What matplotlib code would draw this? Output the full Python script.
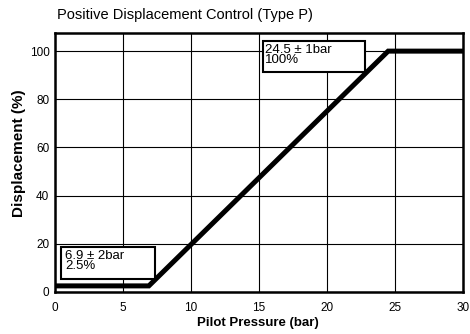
import matplotlib.pyplot as plt
from matplotlib.patches import Rectangle

plt.rcParams['font.family'] = ['Liberation Sans', 'DejaVu Sans']

# control curve: pressure (bar) vs displacement (%)
pressure = [0, 6.9, 24.5, 30]
displacement = [2.5, 2.5, 100, 100]
x_ticks = [0, 5, 10, 15, 20, 25, 30]
y_ticks = [0, 20, 40, 60, 80, 100]
start_label = '6.9 ± 2bar\n2.5%'
end_label = '24.5 ± 1bar\n100%'

fig = plt.figure(figsize=(4.7, 3.34), dpi=100)
ax = fig.add_axes([0.117, 0.126, 0.868, 0.775])

ax.plot(pressure, displacement, color='black', linewidth=3.6,
        solid_joinstyle='miter', zorder=3)

ax.set_xlim(0, 30)
ax.set_ylim(0, 107.5)
ax.set_xticks(x_ticks)
ax.set_yticks(y_ticks)
ax.tick_params(length=0, labelsize=8.5)
ax.tick_params(axis='x', pad=7)
ax.tick_params(axis='y', pad=4)
ax.grid(True, color='black', linewidth=0.8)
ax.set_axisbelow(True)
for s in ax.spines.values():
    s.set_linewidth(1.8)

# annotation boxes
ax.add_patch(Rectangle((0.45, 5.4), 6.9, 13.3, facecolor='white',
                       edgecolor='black', linewidth=1.5, zorder=4))
ax.text(0.75, 17.5, start_label, fontsize=9.5, va='top', ha='left',
        linespacing=0.8, zorder=5)
ax.add_patch(Rectangle((15.3, 91.3), 7.5, 12.8, facecolor='white',
                       edgecolor='black', linewidth=1.5, zorder=4))
ax.text(15.42, 102.9, end_label, fontsize=9.5, va='top', ha='left',
        linespacing=0.8, zorder=5)

fig.text(258 / 470, 1 - 323 / 334, 'Pilot Pressure (bar)', fontsize=9.5,
         fontweight='bold', ha='center', va='center')
fig.text(19 / 470, 1 - 153 / 334, 'Displacement (%)', fontsize=11,
         fontweight='bold', rotation=90, ha='center', va='center')
fig.text(0.121, 0.955, 'Positive Displacement Control (Type P)', fontsize=10.5,
         va='center', ha='left')

fig.savefig('out.png', dpi=100)
